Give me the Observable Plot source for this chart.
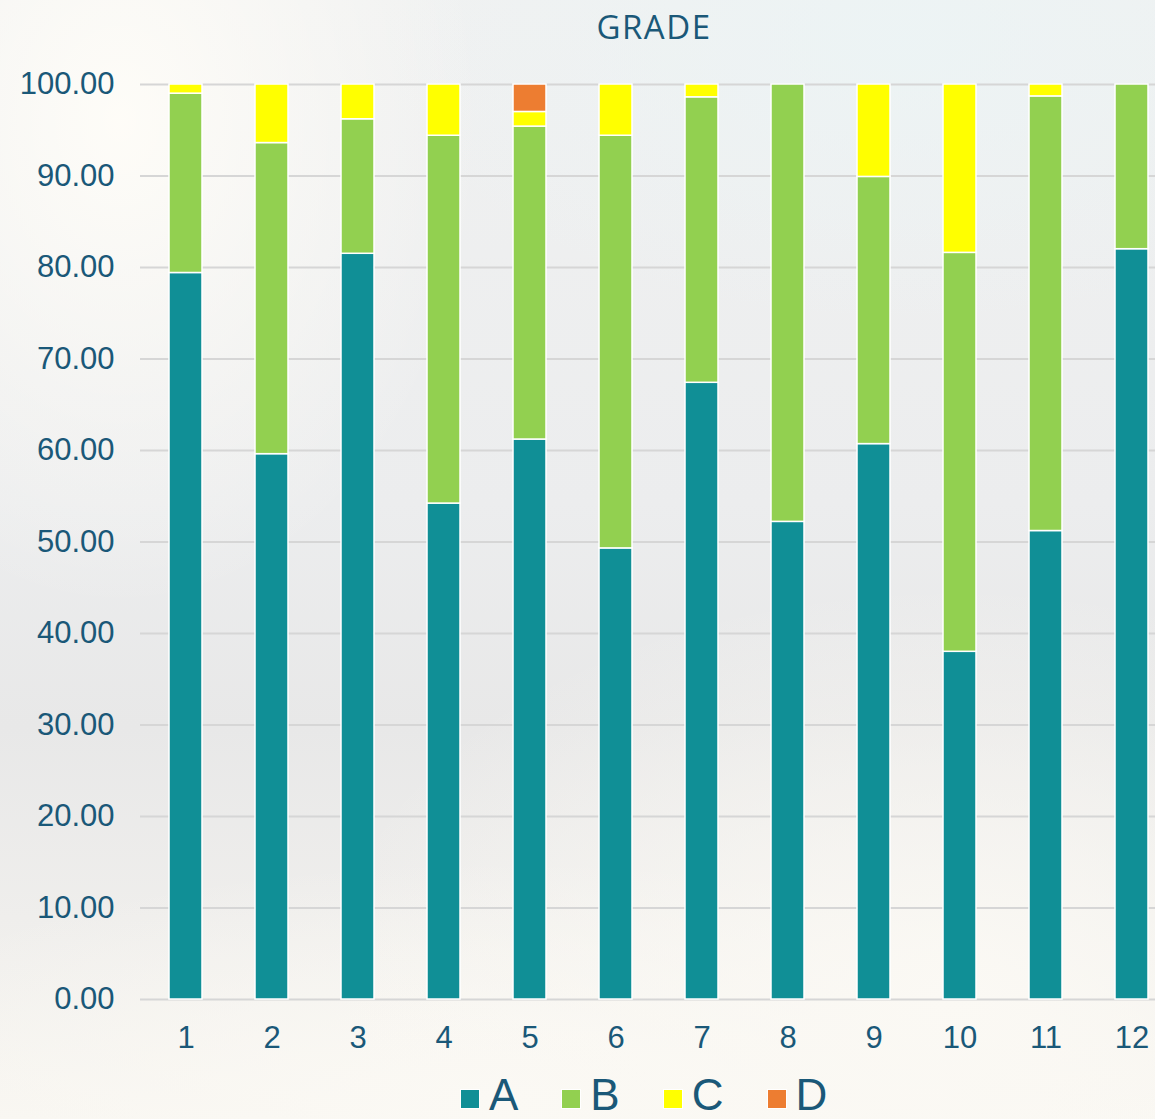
<!DOCTYPE html>
<html>
<head>
<meta charset="utf-8">
<script src="https://cdn.jsdelivr.net/npm/d3@7"></script>
<script src="https://cdn.jsdelivr.net/npm/@observablehq/plot@0.6"></script>
<style>
  html, body { margin: 0; padding: 0; overflow: hidden; }
  body {
    width: 1155px; height: 1119px; position: relative;
    background:
      radial-gradient(ellipse 520px 700px at 120px 120px, rgba(255,253,248,0.95), rgba(255,253,248,0) 70%),
      radial-gradient(ellipse 700px 380px at 900px 40px, rgba(236,244,245,0.9), rgba(236,244,245,0) 75%),
      radial-gradient(ellipse 800px 520px at 950px 1000px, rgba(251,249,244,1), rgba(251,249,244,0) 80%),
      radial-gradient(ellipse 900px 300px at 500px 1100px, rgba(251,249,244,1), rgba(251,249,244,0) 80%),
      linear-gradient(180deg, #f0f1f1 0%, #ecedee 45%, #e8e8e8 65%, #efeeec 82%, #f8f6f1 100%);
    font-family: "Liberation Sans", Arial, sans-serif;
  }
  #title {
    position: absolute; left: 654px; top: 0; transform: translateX(-50%);
    height: 56px; line-height: 53px; font-family: "Open Sans", sans-serif;
    font-size: 33px; color: #1a5878; letter-spacing: 1.5px; white-space: nowrap;
  }
  #chart { position: absolute; left: 0; top: 56px; }
  #legend {
    position: absolute; left: 460px; top: 1073px; display: flex; gap: 43px;
    font-family: "Liberation Sans", Arial, sans-serif; font-size: 44px; line-height: 44px; color: #1a5878;
  }
  .item { display: flex; align-items: flex-start; }
  .sw { width: 20px; height: 20px; margin-top: 16px; margin-right: 9px; box-sizing: border-box; border: 1px solid #fff; }
</style>
</head>
<body>
<div id="title">GRADE</div>
<div id="chart"></div>
<div id="legend"></div>
<script>
const categories = ["1","2","3","4","5","6","7","8","9","10","11","12"];
const seriesNames = ["A","B","C","D"];
const seriesColors = ["#108f96", "#92d050", "#ffff00", "#ed7d31"];
const valuesA = [79.4, 59.6, 81.5, 54.2, 61.2, 49.3, 67.4, 52.2, 60.7, 38.0, 51.2, 82.0];
const valuesB = [19.6, 34.0, 14.7, 40.2, 34.2, 45.1, 31.2, 47.8, 29.2, 43.6, 47.5, 18.0];
const valuesC = [1.0, 6.4, 3.8, 5.6, 1.6, 5.6, 1.4, 0, 10.1, 18.4, 1.3, 0];
const valuesD = [0, 0, 0, 0, 3.0, 0, 0, 0, 0, 0, 0, 0];
const yTicks = [0, 10, 20, 30, 40, 50, 60, 70, 80, 90, 100];

const allValues = [valuesA, valuesB, valuesC, valuesD];
const data = [];
categories.forEach((c, i) => {
  seriesNames.forEach((s, j) => {
    const v = allValues[j][i];
    if (v > 0) data.push({grade: c, series: s, value: v});
  });
});

const textColor = "#1a5878";
const chart = Plot.plot({
  width: 1155,
  height: 1005,
  marginTop: 28,
  marginBottom: 62,
  marginLeft: 140,
  marginRight: 0,
  style: {background: "transparent", fontFamily: "'Liberation Sans', Arial, sans-serif", fontSize: "31px", color: textColor, overflow: "visible"},
  x: {domain: categories, range: [141, 1175], paddingInner: 0.62, paddingOuter: 0.31, label: null},
  y: {domain: [0, 100], label: null},
  color: {domain: seriesNames, range: seriesColors},
  marks: [
    Plot.gridY(yTicks, {stroke: "#d6d6d6", strokeOpacity: 1, strokeWidth: 2}),
    Plot.barY(data, {x: "grade", y: "value", fill: "series", stroke: "#ffffff", strokeWidth: 1.5, order: seriesNames}),
    Plot.axisY(yTicks, {tickSize: 0, tickPadding: 26, tickFormat: d3.format(".2f"), fill: textColor, fontSize: 31, label: null}),
    Plot.axisX({tickSize: 0, tickPadding: 26, fill: textColor, fontSize: 31, label: null})
  ]
});
document.getElementById("chart").appendChild(chart);

const legend = document.getElementById("legend");
seriesNames.forEach((s, i) => {
  const item = document.createElement("div");
  item.className = "item";
  const sw = document.createElement("div");
  sw.className = "sw";
  sw.style.background = seriesColors[i];
  const label = document.createElement("span");
  label.textContent = s;
  item.appendChild(sw);
  item.appendChild(label);
  legend.appendChild(item);
});
</script>
</body>
</html>
